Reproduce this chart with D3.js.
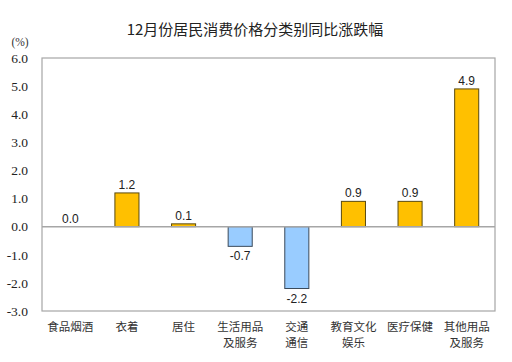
<!DOCTYPE html>
<html><head><meta charset="utf-8">
<script src="https://cdn.jsdelivr.net/npm/d3@7/dist/d3.min.js"></script>
<style>body{margin:0;background:#fff}svg{display:block}</style>
</head><body><svg id="c" width="512" height="362"></svg>
<script>
const title = "12月份居民消费价格分类别同比涨跌幅";
const categories = [["食品烟酒"],["衣着"],["居住"],["生活用品","及服务"],["交通","通信"],["教育文化","娱乐"],["医疗保健"],["其他用品","及服务"]];
const values = [0.0, 1.2, 0.1, -0.7, -2.2, 0.9, 0.9, 4.9];
const yTicks = [6,5,4,3,2,1,0,-1,-2,-3];

const svg = d3.select("#c");
const m = {l:42, r:495, t:58, b:311};
const x = d3.scaleBand().domain(d3.range(categories.length)).range([m.l, m.r]).paddingInner(0.575).paddingOuter(0.2875);
const y = d3.scaleLinear().domain([-3, 6]).range([m.b, m.t]);
const sans = "Arial, 'Liberation Sans', 'Noto Sans CJK SC', sans-serif";
const fmt = d => d3.format(".1f")(d).replace("\u2212","-");

svg.append("text").attr("x",255).attr("y",35).attr("text-anchor","middle")
  .attr("font-family","'Noto Sans CJK SC', sans-serif").attr("font-size",15).attr("fill","#222").text(title);
svg.append("text").attr("x",20).attr("y",46).attr("text-anchor","middle")
  .attr("font-family","'Liberation Serif', serif").attr("font-size",11.5).attr("fill","#333").text("(%)");

// frame
svg.append("rect").attr("x",m.l).attr("y",m.t).attr("width",m.r-m.l).attr("height",m.b-m.t)
  .attr("fill","none").attr("stroke","#a6a6a6").attr("stroke-width",1.2);

// y axis labels
const ya = svg.append("g").attr("transform",`translate(${m.l},0)`)
  .call(d3.axisLeft(y).tickValues(yTicks).tickSize(0).tickPadding(14).tickFormat(fmt));
ya.select(".domain").remove();
ya.selectAll("text").attr("font-family","'Liberation Serif', serif").attr("font-size",13.5).attr("fill","#222");

// bars
svg.append("g").selectAll("rect").data(values).join("rect")
  .attr("x",(d,i)=>x(i)).attr("width",x.bandwidth())
  .attr("y",d=>y(Math.max(0,d))).attr("height",d=>Math.abs(y(d)-y(0)))
  .attr("fill",d=>d>=0?"#FFC000":"#99CCFF")
  .attr("stroke",d=>d>=0?"#5a4a10":"#3a4a5a").attr("stroke-width",1);

// zero line
svg.append("line").attr("x1",m.l).attr("x2",m.r).attr("y1",y(0)).attr("y2",y(0))
  .attr("stroke","#a6a6a6").attr("stroke-width",1.5);

// value labels
svg.append("g").selectAll("text").data(values).join("text")
  .attr("x",(d,i)=>x(i)+x.bandwidth()/2)
  .attr("y",d=>d>=0?y(d)-4:y(d)+14)
  .attr("text-anchor","middle").attr("font-family",sans).attr("font-size",12).attr("fill","#222")
  .text(fmt);

// category labels
const cg = svg.append("g").selectAll("text").data(categories).join("text")
  .attr("x",(d,i)=>x(i)+x.bandwidth()/2).attr("y",331)
  .attr("text-anchor","middle").attr("font-family","'Noto Sans CJK SC', sans-serif").attr("font-size",11.5).attr("fill","#333");
cg.selectAll("tspan").data(d=>d).join("tspan")
  .attr("x",function(){return this.parentNode.getAttribute("x");})
  .attr("dy",(d,i)=>i===0?0:16).text(d=>d);
</script></body></html>
